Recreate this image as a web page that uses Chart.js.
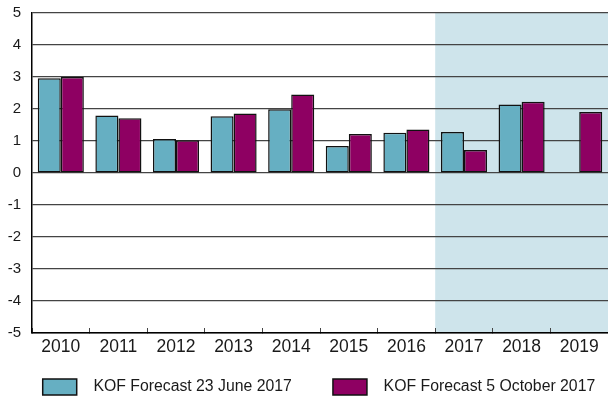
<!DOCTYPE html>
<html>
<head>
<meta charset="utf-8">
<script src="https://cdn.jsdelivr.net/npm/chart.js@4"></script>
<style>
  html, body { margin: 0; padding: 0; background: #fff; }
  #wrap { width: 608px; height: 400px; }
</style>
</head>
<body>
<div id="wrap"><canvas id="kofChart"></canvas></div>
<script>
const TEAL   = '#66afc2';
const PURPLE = '#8e0062';
const SHADE  = '#cee4eb';
const GRID   = '#444444';
const INK    = '#1a1a1a';
const FONT   = 'Liberation Sans, Arial, Helvetica, sans-serif';

const years     = ['2010','2011','2012','2013','2014','2015','2016','2017','2018','2019'];
const juneVals  = [2.96, 1.80, 1.06, 1.77, 1.99, 0.84, 1.26, 1.28, 2.14, null];
const octVals   = [3.00, 1.71, 1.02, 1.86, 2.45, 1.22, 1.36, 0.72, 2.23, 1.91];
const yTicks    = [5, 4, 3, 2, 1, 0, -1, -2, -3, -4, -5];
const forecastFrom = '2017';

// light blue band behind the forecast years
const forecastBand = {
  id: 'forecastBand',
  beforeDraw(chart) {
    const { ctx, chartArea, scales } = chart;
    const i = years.indexOf(forecastFrom);
    const x0 = (scales.x.getPixelForValue(i - 1) + scales.x.getPixelForValue(i)) / 2;
    ctx.save();
    ctx.fillStyle = SHADE;
    ctx.fillRect(x0, chartArea.top, chartArea.right - x0, chartArea.bottom - chartArea.top);
    ctx.restore();
  }
};

const barStyle = {
  borderColor: '#111',
  borderWidth: 1.5,
  borderSkipped: false,
  categoryPercentage: 0.8,
  barPercentage: 1.0
};

// spaces pad the legend items apart (legend padding also sets its height)
new Chart(document.getElementById('kofChart'), {
  type: 'bar',
  data: {
    labels: years,
    datasets: [
      { label: '  KOF Forecast 23 June 2017' + ' '.repeat(8), data: juneVals, backgroundColor: TEAL, ...barStyle },
      { label: '  KOF Forecast 5 October 2017' + ' '.repeat(2), data: octVals, backgroundColor: PURPLE, ...barStyle }
    ]
  },
  options: {
    responsive: true,
    maintainAspectRatio: false,
    animation: false,
    layout: { padding: { top: 13, left: 0, right: -2, bottom: -5 } },
    plugins: {
      legend: {
        position: 'bottom',
        align: 'end',
        labels: {
          color: INK,
          font: { family: FONT, size: 15.8 },
          boxWidth: 34,
          boxHeight: 16,
          padding: 6
        }
      },
      tooltip: { enabled: false }
    },
    scales: {
      x: {
        afterFit(scale) { scale.height = 40; },
        grid: { offset: true, drawOnChartArea: false, drawTicks: true, tickLength: -5, color: GRID },
        border: { display: true, color: '#000', width: 1.5 },
        ticks: { color: INK, padding: 9, font: { family: FONT, size: 17.5 }, maxRotation: 0 }
      },
      y: {
        min: Math.min(...yTicks),
        max: Math.max(...yTicks),
        afterFit(scale) { scale.width = 32; },
        grid: { color: GRID, lineWidth: 1.2, drawTicks: false },
        border: { display: true, color: '#000', width: 1.5 },
        ticks: { stepSize: 1, color: INK, padding: 11, font: { family: FONT, size: 15, lineHeight: 0.2 } }
      }
    }
  },
  plugins: [forecastBand]
});
</script>
</body>
</html>
